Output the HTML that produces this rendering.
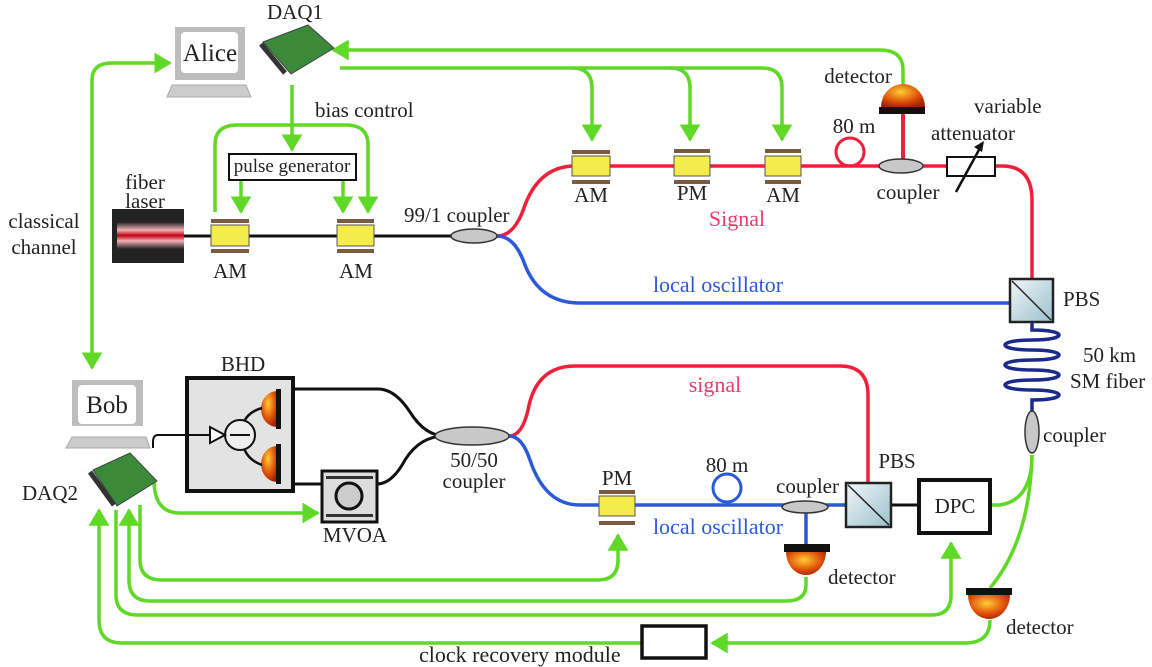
<!DOCTYPE html>
<html><head><meta charset="utf-8"><style>
html,body{margin:0;padding:0;background:#fff}
svg{display:block}
text{font-family:"Liberation Serif",serif;fill:#222;font-size:21px}
</style></head><body>
<svg width="1152" height="667" viewBox="0 0 1152 667" xmlns="http://www.w3.org/2000/svg">
<defs>
<marker id="ga" markerWidth="6" markerHeight="6" refX="4.5" refY="3" orient="auto" markerUnits="strokeWidth"><path d="M0,0 L5,3 L0,6 Z" fill="#5fd926"/></marker>
<radialGradient id="det" cx="0.45" cy="0.35" r="0.7"><stop offset="0" stop-color="#ffcc33"/><stop offset="0.6" stop-color="#e0520a"/><stop offset="1" stop-color="#a02000"/></radialGradient>
<linearGradient id="las" x1="0" y1="0" x2="0" y2="1"><stop offset="0" stop-color="#222"/><stop offset="0.3" stop-color="#f3b0b8"/><stop offset="0.5" stop-color="#c00010"/><stop offset="0.7" stop-color="#f3b0b8"/><stop offset="1" stop-color="#222"/></linearGradient>
<linearGradient id="pbs" x1="0" y1="0" x2="1" y2="1"><stop offset="0" stop-color="#f0f6f8"/><stop offset="1" stop-color="#9cc0cc"/></linearGradient>
</defs>

<!-- green lines -->
<g fill="none" stroke="#5fd926" stroke-width="3.5">
<path d="M92,80 Q92,63 112,63 L170,63" marker-end="url(#ga)"/>
<path d="M92,80 L92,368" marker-end="url(#ga)"/>
<path d="M903,84 L903,70 Q903,50 880,50 L333,50" marker-end="url(#ga)"/>
<path d="M340,68 L762,68 Q782,68 782,88 L782,140" marker-end="url(#ga)"/>
<path d="M572,68 Q592,68 592,88 L592,140" marker-end="url(#ga)"/>
<path d="M670,68 Q690,68 690,88 L690,140" marker-end="url(#ga)"/>
<path d="M292,85 L292,150" marker-end="url(#ga)"/>
<path d="M215,212 L215,145 Q215,125 237,125 L346,125 Q368,125 368,145 L368,212" marker-end="url(#ga)"/>
<path d="M241,180 L241,212" marker-end="url(#ga)"/>
<path d="M343,180 L343,212" marker-end="url(#ga)"/>
<!-- bottom -->
<path d="M154,480 Q154,513 180,513 L318,513" marker-end="url(#ga)"/>
<path d="M140,505 L140,560 Q140,580 162,580 L598,580 Q618,580 618,560 L618,535" marker-end="url(#ga)"/>
<path d="M806,577 L806,585 Q806,601 786,601 L150,601 Q129,601 129,580 L129,510" marker-end="url(#ga)"/>
<path d="M116,510 L116,595 Q116,615 138,615 L932,615 Q951,615 951,595 L951,543" marker-end="url(#ga)"/>
<path d="M642,643 L122,643 Q99,643 99,620 L99,510" marker-end="url(#ga)"/>
<path d="M990,620 Q990,643 965,643 L712,643" marker-end="url(#ga)"/>
<path d="M1032,455 Q1032,500 1000,505 L992,505"/>
<path d="M1032,455 Q1030,540 990,588"/>
</g>

<!-- Alice computer -->
<rect x="175" y="27" width="70" height="53" fill="#bdbdbd"/>
<rect x="181" y="32" width="57" height="41" rx="4" fill="#fff"/>
<text x="210" y="61" style="font-size:25px" text-anchor="middle">Alice</text>
<path d="M172,85 L246,85 L251,97 L167,97 Z" fill="#ccc" stroke="#aaa"/>
<!-- DAQ1 -->
<text x="295" y="19" text-anchor="middle">DAQ1</text>
<path d="M263,42 L308,25 L334,48 L291,74 Z" fill="#3a8a3a" stroke="#444"/>
<path d="M261,44 L285,73" stroke="#333" stroke-width="5"/>
<!-- text labels top -->
<text x="315" y="117">bias control</text>
<rect x="229" y="154" width="127" height="26" fill="#fff" stroke="#111" stroke-width="2"/>
<text x="292" y="172" style="font-size:19px" text-anchor="middle">pulse generator</text>
<text x="145" y="189" text-anchor="middle">fiber</text>
<text x="145" y="208" text-anchor="middle">laser</text>
<text x="44" y="228" text-anchor="middle">classical</text>
<text x="44" y="254" text-anchor="middle">channel</text>
<!-- laser -->
<rect x="112" y="209" width="72" height="54" fill="#222"/>
<rect x="117" y="222" width="67" height="27" fill="url(#las)"/>
<!-- fiber black -->
<path d="M184,236 L474,236" stroke="#111" stroke-width="3"/>
<!-- AMs left -->
<g>
<rect x="211" y="219" width="38" height="4" fill="#7a5a40"/><rect x="211" y="225" width="38" height="21" fill="#f4ec4a" stroke="#555"/><rect x="211" y="249" width="38" height="4" fill="#7a5a40"/>
<rect x="337" y="219" width="37" height="4" fill="#7a5a40"/><rect x="337" y="225" width="37" height="21" fill="#f4ec4a" stroke="#555"/><rect x="337" y="249" width="37" height="4" fill="#7a5a40"/>
</g>
<text x="230" y="278" text-anchor="middle">AM</text>
<text x="356" y="278" text-anchor="middle">AM</text>
<text x="404" y="222">99/1 coupler</text>

<!-- red signal top -->
<path d="M497,236 Q515,236 525,205 Q540,166 575,166 L947,166 M995,166 L1002,166 Q1032,166 1032,200 L1032,279" fill="none" stroke="#f0203a" stroke-width="3.5"/>
<circle cx="850" cy="152" r="14" fill="none" stroke="#f0203a" stroke-width="3"/>
<path d="M903,114 L903,162" stroke="#f0203a" stroke-width="4"/>
<!-- blue LO top -->
<path d="M497,236 Q515,236 525,265 Q540,303 580,303 L1010,303" fill="none" stroke="#2a5ad8" stroke-width="3.5"/>
<ellipse cx="474" cy="236" rx="23" ry="7" fill="#c8c8c8" stroke="#333" stroke-width="1.5"/>
<!-- top modulators -->
<g>
<rect x="572" y="150" width="38" height="4" fill="#7a5a40"/><rect x="572" y="156" width="38" height="20" fill="#f4ec4a" stroke="#555"/><rect x="572" y="180" width="38" height="4" fill="#7a5a40"/>
<rect x="674" y="149" width="36" height="4" fill="#7a5a40"/><rect x="674" y="156" width="36" height="20" fill="#f4ec4a" stroke="#555"/><rect x="674" y="180" width="36" height="4" fill="#7a5a40"/>
<rect x="765" y="149" width="36" height="4" fill="#7a5a40"/><rect x="765" y="156" width="36" height="20" fill="#f4ec4a" stroke="#555"/><rect x="765" y="180" width="36" height="4" fill="#7a5a40"/>
</g>
<text x="591" y="202" text-anchor="middle">AM</text>
<text x="692" y="200" text-anchor="middle">PM</text>
<text x="783" y="202" text-anchor="middle">AM</text>
<text x="737" y="226" text-anchor="middle" style="fill:#ee3a6a;font-size:22px">Signal</text>
<text x="854" y="133" text-anchor="middle">80 m</text>
<text x="858" y="83" text-anchor="middle">detector</text>
<text x="974" y="113">variable</text>
<text x="931" y="140">attenuator</text>
<text x="908" y="199" text-anchor="middle">coupler</text>
<!-- detector top -->
<path d="M881,107 A22,23 0 0 1 925,107 Z" fill="url(#det)"/>
<rect x="879" y="107" width="46" height="7" fill="#111"/>
<ellipse cx="901" cy="166" rx="22" ry="7" fill="#c8c8c8" stroke="#333" stroke-width="1.5"/>
<!-- attenuator -->
<rect x="947" y="157" width="48" height="19" fill="#fff" stroke="#111" stroke-width="2"/>
<path d="M956,192 L980,148" stroke="#111" stroke-width="2.5"/><path d="M984,141 L974,147 L982,152 Z" fill="#111"/>
<text x="718" y="292" text-anchor="middle" style="fill:#2a5ad8;font-size:22px">local oscillator</text>
<!-- PBS top -->
<rect x="1010" y="279" width="43" height="43" fill="url(#pbs)" stroke="#222" stroke-width="2.5"/>
<path d="M1012,281 L1051,320" stroke="#222" stroke-width="1.5"/>
<text x="1063" y="306">PBS</text>
<!-- spool -->
<g fill="none" stroke="#1a2a8a" stroke-width="3.5">
<path d="M1032,322 L1032,330 C1068,330 1068,340 1032,340 C996,340 996,350 1032,350 C1068,350 1068,360 1032,360 C996,360 996,370 1032,370 C1068,370 1068,380 1032,380 C996,380 996,390 1032,390 C1068,390 1068,400 1032,400 L1032,415"/>
</g>
<text x="1083" y="362">50 km</text>
<text x="1070" y="388">SM fiber</text>
<ellipse cx="1032" cy="432" rx="7" ry="21" fill="#c8c8c8" stroke="#333" stroke-width="1.5"/>
<text x="1043" y="442">coupler</text>

<!-- bottom signal red -->
<path d="M509,436 Q522,436 528,410 Q536,366 575,366 L840,366 Q868,366 868,395 L868,483" fill="none" stroke="#f0203a" stroke-width="3.5"/>
<text x="715" y="392" text-anchor="middle" style="fill:#ee3a6a;font-size:22px">signal</text>
<!-- bottom LO blue -->
<path d="M509,436 Q522,436 530,460 Q545,505 580,505 L846,505 M806,507 L806,545" fill="none" stroke="#2a5ad8" stroke-width="3.5"/>
<circle cx="727" cy="488" r="14" fill="none" stroke="#2a5ad8" stroke-width="3"/>
<text x="727" y="472" text-anchor="middle">80 m</text>
<rect x="599" y="490" width="36" height="4" fill="#7a5a40"/><rect x="599" y="496" width="36" height="20" fill="#f4ec4a" stroke="#555"/><rect x="599" y="521" width="36" height="4" fill="#7a5a40"/>
<text x="617" y="485" text-anchor="middle">PM</text>
<text x="718" y="534" text-anchor="middle" style="fill:#2a5ad8;font-size:22px">local oscillator</text>
<ellipse cx="805" cy="507" rx="23" ry="6" fill="#c8c8c8" stroke="#333" stroke-width="1.5"/>
<text x="776" y="493">coupler</text>
<!-- detector LO -->
<rect x="784" y="544" width="46" height="8" fill="#111"/>
<path d="M786,552 A20,23 0 0 0 826,552 Z" fill="url(#det)"/>
<text x="828" y="584">detector</text>
<!-- PBS bottom -->
<path d="M891,505 L918,505" stroke="#111" stroke-width="3"/>
<rect x="846" y="483" width="45" height="44" fill="url(#pbs)" stroke="#222" stroke-width="2.5"/>
<path d="M848,485 L889,525" stroke="#222" stroke-width="1.5"/>
<text x="897" y="468" text-anchor="middle">PBS</text>
<rect x="919" y="480" width="71" height="53" fill="#fff" stroke="#111" stroke-width="4"/>
<text x="955" y="513" text-anchor="middle">DPC</text>
<!-- detector bottom right -->
<rect x="966" y="588" width="46" height="7" fill="#111"/>
<path d="M968,595 A21,24 0 0 0 1010,595 Z" fill="url(#det)"/>
<text x="1006" y="634">detector</text>
<!-- clock recovery -->
<rect x="642" y="626" width="64" height="32" fill="#fff" stroke="#111" stroke-width="3.5"/>
<text x="419" y="662" style="font-size:22px">clock recovery module</text>

<!-- black fibers to BHD -->
<path d="M294,389 L378,389 Q395,389 410,412 Q425,436 445,436 M377,484 Q392,484 405,460 Q420,436 445,436" fill="none" stroke="#111" stroke-width="3"/>
<ellipse cx="472" cy="436" rx="37" ry="9" fill="#c8c8c8" stroke="#333" stroke-width="1.5"/>
<text x="474" y="467" text-anchor="middle">50/50</text>
<text x="474" y="488" text-anchor="middle">coupler</text>
<!-- BHD -->
<text x="243" y="371" text-anchor="middle">BHD</text>
<rect x="187" y="378" width="106" height="113" fill="#e3e3e3" stroke="#111" stroke-width="4"/>
<path d="M277,391 A16,18 0 0 0 277,427 Z" fill="url(#det)"/><rect x="276" y="389" width="5" height="40" fill="#111"/>
<path d="M277,446 A16,18 0 0 0 277,482 Z" fill="url(#det)"/><rect x="276" y="444" width="5" height="40" fill="#111"/>
<path d="M262,408 Q248,412 244,422 M262,465 Q248,460 244,448" fill="none" stroke="#111" stroke-width="2.5"/>
<circle cx="240" cy="435" r="15" fill="#eee" stroke="#111" stroke-width="2"/>
<path d="M230,435 L250,435" stroke="#111" stroke-width="2"/>
<path d="M225,435 L210,427 L210,443 Z" fill="#fff" stroke="#111" stroke-width="2"/>
<path d="M210,435 L158,435 Q153,435 153,442 L153,448" fill="none" stroke="#111" stroke-width="2"/>
<!-- MVOA -->
<path d="M293,484 L322,484" stroke="#111" stroke-width="3"/>
<rect x="322" y="471" width="55" height="51" fill="#ddd" stroke="#111" stroke-width="3"/>
<rect x="326" y="476" width="47" height="3" fill="#333"/><rect x="326" y="514" width="47" height="3" fill="#333"/>
<circle cx="349" cy="496" r="13" fill="#ccc" stroke="#111" stroke-width="3"/>
<text x="355" y="542" text-anchor="middle">MVOA</text>
<!-- Bob -->
<rect x="72" y="380" width="71" height="46" fill="#bdbdbd"/>
<rect x="78" y="385" width="58" height="39" rx="4" fill="#fff"/>
<text x="107" y="413" style="font-size:25px" text-anchor="middle">Bob</text>
<path d="M72,437 L146,437 L150,448 L66,448 Z" fill="#ccc" stroke="#aaa"/>
<!-- DAQ2 -->
<text x="22" y="500">DAQ2</text>
<path d="M93,470 L130,453 L157,481 L117,506 Z" fill="#3a8a3a" stroke="#444"/>
<path d="M90,472 L114,505" stroke="#333" stroke-width="5"/>
</svg>
</body></html>
